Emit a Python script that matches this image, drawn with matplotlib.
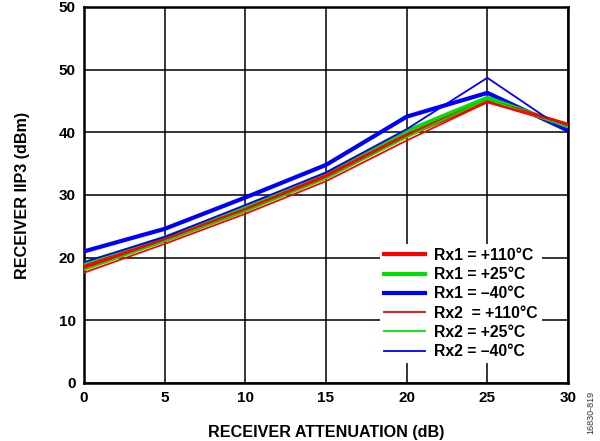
import matplotlib
matplotlib.use("Agg")
import matplotlib.pyplot as plt

plt.rcParams['font.family'] = ['Liberation Sans', 'DejaVu Sans']
plt.rcParams['font.weight'] = 'bold'

attenuation = [0, 5, 10, 15, 20, 25, 30]
rx1_110 = [18.5, 22.8, 27.6, 33.0, 39.5, 45.0, 41.2]
rx1_25 = [19.0, 23.2, 28.0, 33.4, 40.2, 45.5, 41.0]
rx1_m40 = [21.0, 24.6, 29.6, 34.8, 42.5, 46.3, 40.3]
rx2_110 = [17.6, 22.2, 27.0, 32.2, 38.7, 44.8, 41.3]
rx2_25 = [18.0, 22.6, 27.4, 32.6, 39.2, 45.3, 40.8]
rx2_m40 = [19.3, 23.3, 28.4, 33.6, 40.5, 48.7, 40.0]

labels = ["Rx1 = +110°C", "Rx1 = +25°C", "Rx1 = \u201340°C",
          "Rx2  = +110°C", "Rx2 = +25°C", "Rx2 = \u201340°C"]
yticks = [0, 10, 20, 30, 40, 50, 60]
ytick_labels = ["0", "10", "20", "30", "40", "50", "50"]
xticks = [0, 5, 10, 15, 20, 25, 30]

fig = plt.figure(figsize=(6.0, 4.41), dpi=100)
ax = fig.add_axes([84/600, 1-383/441, (568-84)/600, (383-7)/441])

series = [rx1_110, rx1_25, rx1_m40, rx2_110, rx2_25, rx2_m40]
colors = ['#ff0000', '#00e000', '#0000ff', '#ff0000', '#00e000', '#0000ff']
widths = [3.0, 3.0, 3.0, 1.3, 1.3, 1.3]
handles = [None]*6
for i in [2, 1, 0, 5, 4, 3]:
    h, = ax.plot(attenuation, series[i], color=colors[i], lw=widths[i], label=labels[i], zorder=3)
    handles[i] = h

ax.set_xlim(0, 30)
ax.set_ylim(0, 60)
ax.set_xticks(xticks)
ax.set_yticks(yticks)
ax.set_yticklabels(ytick_labels)
ax.tick_params(length=0, labelsize=11, pad=6)
for lab in ax.get_xticklabels() + ax.get_yticklabels():
    lab.set_fontweight('bold')
ax.grid(True, color='black', lw=1.1)
for s in ax.spines.values():
    s.set_linewidth(1.8)

ax.set_xlabel("RECEIVER ATTENUATION (dB)", fontsize=11.6, fontweight='bold', labelpad=14)
ax.set_ylabel("RECEIVER IIP3 (dBm)", fontsize=11.6, fontweight='bold', labelpad=21)

leg = ax.legend(handles=handles, labels=labels, loc='upper right',
                bbox_to_anchor=((542-84)/484, (383-244)/376), frameon=True, fancybox=False,
                edgecolor='none', framealpha=1, fontsize=11.3,
                handlelength=2.6, labelspacing=0.27, borderpad=0.25, handletextpad=0.6,
                borderaxespad=0)
leg.get_frame().set_linewidth(0)

fig.text(0.984, 0.015, "16830-819", rotation=90, fontsize=6.5, fontweight='normal',
         color='#333333', ha='center', va='bottom')

fig.savefig("out.png", dpi=100)
